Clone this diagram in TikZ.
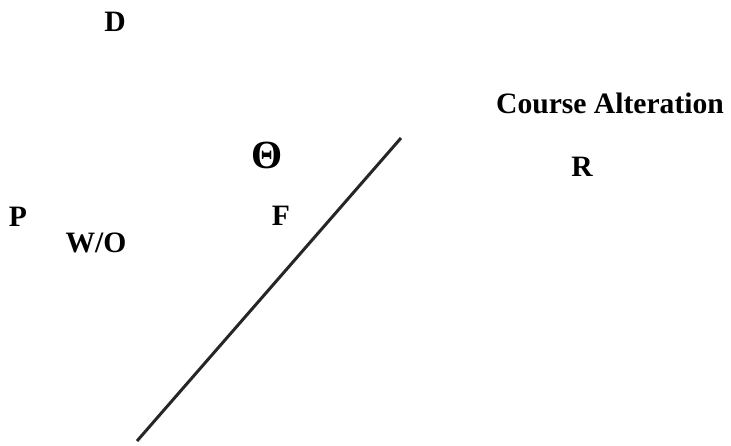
\documentclass[tikz,border=0pt]{standalone}
\usepackage{fontspec}
\setmainfont{Liberation Serif}
\begin{document}
\begin{tikzpicture}[x=1pt,y=1pt,
  lbl/.style={font=\fontsize{29.6}{31}\selectfont\bfseries, inner sep=0pt, anchor=center},
  big/.style={font=\fontsize{40}{42}\selectfont\bfseries, inner sep=0pt, anchor=center}]
\useasboundingbox (0,0) rectangle (731,445);
\node[lbl] (D) at (115,423) {D};
\node[lbl] (CA) at (610,342) {Course Alteration};
\node[big] (T) at (267,290) {Θ};
\node[lbl] (R) at (582,278) {R};
\node[lbl] (P) at (18,228) {P};
\node[lbl] (F) at (281,229) {F};
\node[lbl] (WO) at (96,202) {W/O};
\coordinate (L1) at (137,4);
\coordinate (L2) at (401,307);
\draw[line width=3pt, color=black!85] (L1) -- (L2);
\end{tikzpicture}
\end{document}
